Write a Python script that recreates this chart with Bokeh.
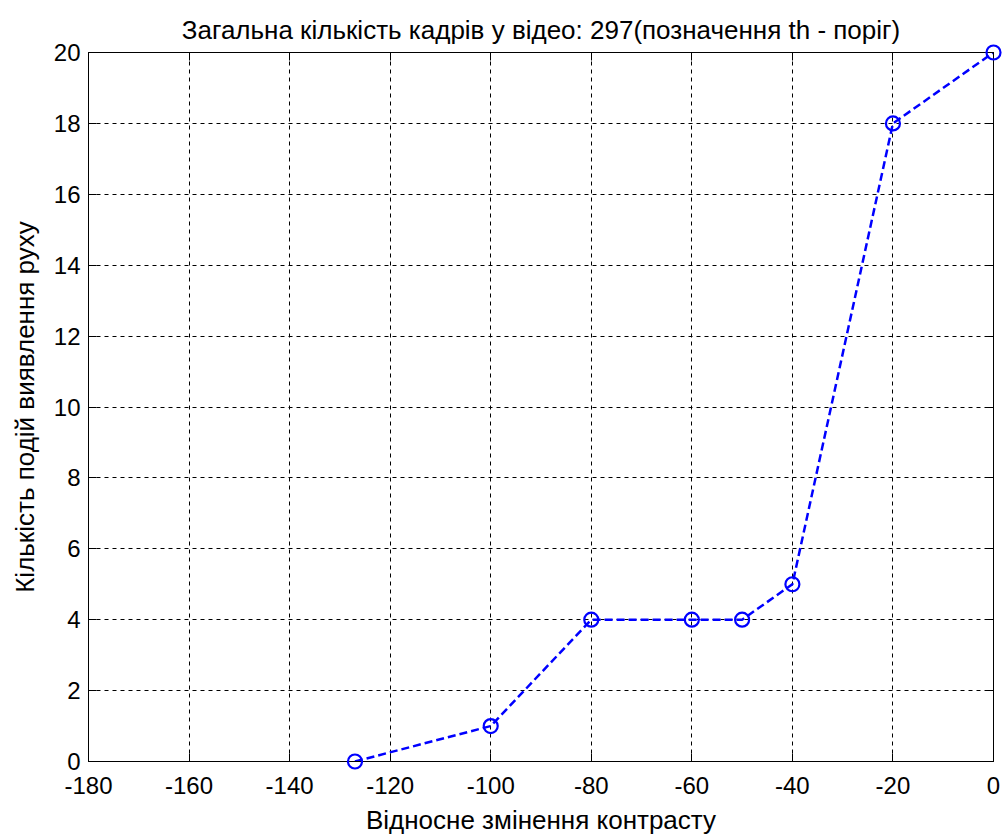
from bokeh.plotting import figure
from bokeh.models import Range1d, LinearAxis, FixedTicker, CustomJSTickFormatter
from bokeh.embed import file_html
from bokeh.resources import INLINE

# Contrast change vs. number of detected motion events
contrast_change = [-127, -100, -80, -60, -50, -40, -20, 0]
event_counts = [0, 1, 4, 4, 4, 5, 18, 20]

x_ticks = [-180, -160, -140, -120, -100, -80, -60, -40, -20, 0]
y_ticks = [0, 2, 4, 6, 8, 10, 12, 14, 16, 18, 20]

FONT = "Liberation Sans"
TEXT = "black"

p = figure(
    width=1004, height=838,
    x_range=Range1d(-180, 0), y_range=Range1d(0, 20),
    output_backend="svg", toolbar_location=None,
    min_border_left=88, min_border_right=11,
    min_border_top=52, min_border_bottom=77,
    title="Загальна кількість кадрів у відео: 297(позначення th - поріг)",
)

p.title.align = "center"
p.title.text_font = FONT
p.title.text_font_size = "26px"
p.title.text_font_style = "normal"
p.title.text_color = TEXT
p.title.standoff = 16

p.outline_line_color = "black"
p.outline_line_width = 1
p.background_fill_color = "white"
p.border_fill_color = "white"

# plain hyphen-minus in the tick labels
plain = CustomJSTickFormatter(code="return tick.toString();")
blank = CustomJSTickFormatter(code="return '';")

for ax, ticks in ((p.xaxis[0], x_ticks), (p.yaxis[0], y_ticks)):
    ax.ticker = FixedTicker(ticks=ticks)
    ax.formatter = plain
    ax.major_tick_in = 8
    ax.major_tick_out = 0
    ax.minor_tick_line_color = None
    ax.axis_line_color = "black"
    ax.major_tick_line_color = "black"
    ax.major_label_text_font = FONT
    ax.major_label_text_font_size = "24px"
    ax.major_label_text_color = TEXT
    ax.axis_label_text_font = FONT
    ax.axis_label_text_font_size = "26px"
    ax.axis_label_text_font_style = "normal"
    ax.axis_label_text_color = TEXT

p.xaxis[0].axis_label = "Відносне змінення контрасту"
p.yaxis[0].axis_label = "Кількість подій виявлення руху"
p.xaxis[0].major_label_standoff = 15
p.yaxis[0].major_label_standoff = 8
p.xaxis[0].axis_label_standoff = 8
p.yaxis[0].axis_label_standoff = 11

# mirrored axes on top and right with inward ticks only
mirror = dict(formatter=blank, major_tick_in=8, major_tick_out=0,
              minor_tick_line_color=None, axis_line_color="black",
              major_label_standoff=0, major_label_text_font_size="1px")
top = LinearAxis(ticker=FixedTicker(ticks=x_ticks), **mirror)
right = LinearAxis(ticker=FixedTicker(ticks=y_ticks), **mirror)
p.add_layout(top, "above")
p.add_layout(right, "right")

p.xgrid.ticker = FixedTicker(ticks=x_ticks)
p.ygrid.ticker = FixedTicker(ticks=y_ticks)
for g in (p.xgrid[0], p.ygrid[0]):
    g.grid_line_color = "black"
    g.grid_line_dash = "4 4"
    g.grid_line_width = 1
    g.grid_line_alpha = 1

p.line(contrast_change, event_counts, line_color="#0000ff", line_width=2.5,
       line_dash="8 4")
# markers drawn on the overlay level so edge points are not cut by the frame
p.scatter(contrast_change, event_counts, marker="circle", size=14,
          fill_color=None, line_color="#0000ff", line_width=2.2, level="overlay")

open("out.html", "w").write(file_html(p, INLINE))
